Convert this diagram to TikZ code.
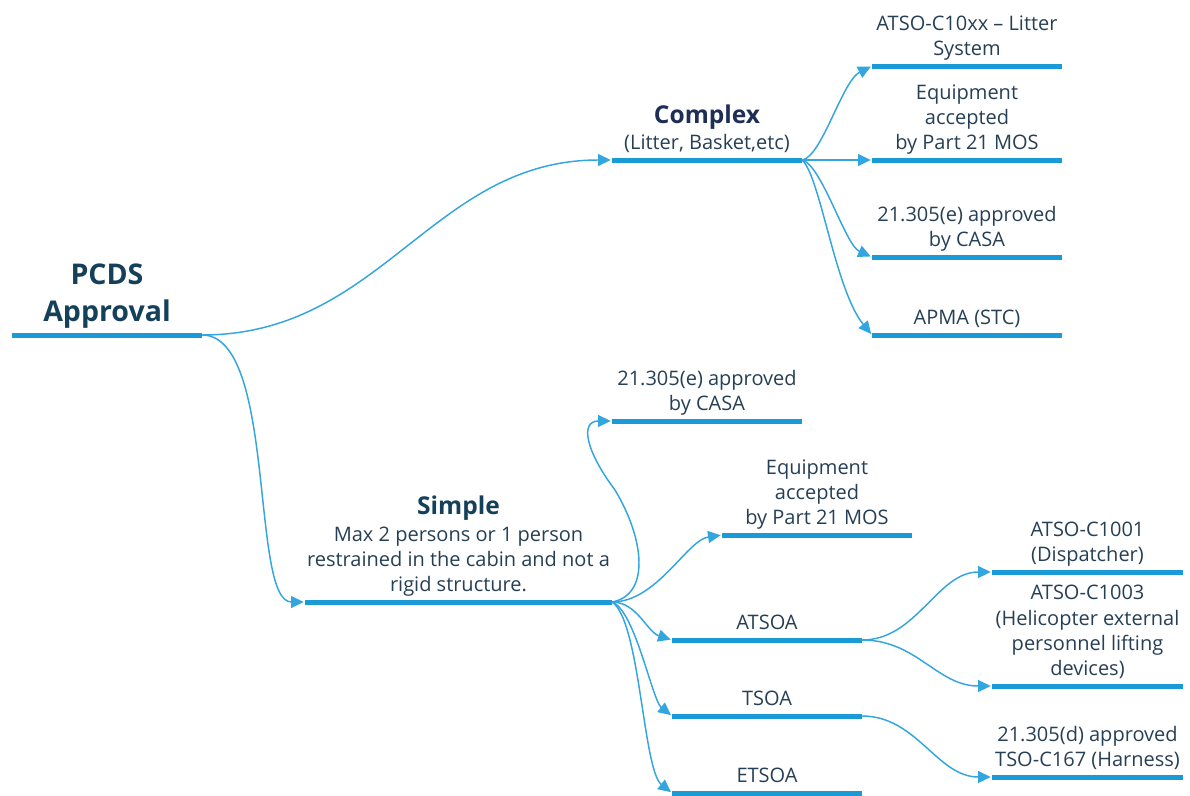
\documentclass[tikz,border=0pt]{standalone}
\usepackage{fontspec}
\setmainfont{Open Sans}
\usetikzlibrary{calc,arrows.meta}
\definecolor{barblue}{HTML}{1A9AD7}
\definecolor{linkblue}{HTML}{33A5DF}
\definecolor{inkgrey}{HTML}{263F55}
\definecolor{rootink}{HTML}{15405A}
\definecolor{navyink}{HTML}{1F2E55}
\tikzset{
	topicbar/.style={barblue, line width=3.75pt},
	topictext/.style={anchor=south, align=center, inner sep=0pt, yshift=1.8pt, text=inkgrey, font=\fontsize{15}{19}\selectfont},
	roottext/.style={text=rootink, font=\fontsize{21.4}{27.75}\selectfont\bfseries},
	link/.style={linkblue, line width=1.1pt, -{Triangle[length=9.5pt,width=9pt]}, shorten >=1pt},
}
% bar with its text: [style](name)(x left:x right:y){text}
\def\branch[#1](#2)(#3:#4:#5)#6{%
	\coordinate (#2-l) at (#3,#5);
	\coordinate (#2-r) at (#4,#5);
	\draw[topicbar] (#2-l) -- (#2-r);
	\node[topictext,#1] (#2) at ($(#2-l)!0.5!(#2-r)$) {#6\strut};
}
\def\headline#1#2{\textcolor{#1}{\fontsize{18.4}{22}\selectfont\bfseries #2}}

\begin{document}
\begin{tikzpicture}[x=0.75pt, y=-0.75pt]
		\useasboundingbox (0,0) rectangle (1190,796);
		%%%%% START %%%%%
		
		\branch[roottext](root)(12:202:335){PCDS\\Approval}
		
		\branch[](complex)(612:802:160){\headline{navyink}{Complex}\\[1pt](Litter, Basket,etc)}
		\branch[](litter)(872:1062:66){ATSO-C10xx – Litter\\System}
		\branch[](cequip)(872:1062:160){Equipment\\accepted\\by Part 21 MOS}
		\branch[](ccasa)(872:1062:257){21.305(e) approved\\by CASA}
		\branch[](apma)(872:1062:335){APMA (STC)}
		
		\branch[](simple)(305:612:602){\headline{rootink}{Simple}\\[1pt]Max 2 persons or 1 person\\restrained in the cabin and not a\\rigid structure.}
		\branch[](scasa)(612:802:421){21.305(e) approved\\by CASA}
		\branch[](sequip)(722:912:535){Equipment\\accepted\\by Part 21 MOS}
		\branch[](atsoa)(672:862:640){ATSOA}
		\branch[](tsoa)(672:862:716){TSOA}
		\branch[](etsoa)(672:862:793){ETSOA}
		
		\branch[](disp)(992:1183:572){ATSO-C1001\\(Dispatcher)}
		\branch[](hoist)(992:1183:686){ATSO-C1003\\(Helicopter external\\personnel lifting\\devices)}
		\branch[](harness)(992:1183:777){21.305(d) approved\\TSO-C167 (Harness)}
		
		% root
		\draw[link] (root-r) .. controls +(180,0) and +(-180,0) .. (complex-l);
		\draw[link] (root-r) .. controls +(75,0) and +(-55,0) .. (simple-l);
		
		% complex
		\draw[link] (complex-r) .. controls +(20,-3) and +(-30,15) .. (litter-l);
		\draw[link] (complex-r) -- (cequip-l);
		\draw[link] (complex-r) .. controls +(20,5) and +(-27,-12) .. (ccasa-l);
		\draw[link] (complex-r) .. controls +(18,15) and +(-37,-45) .. (apma-l);
		
		% simple
		\draw[link] (simple-r) .. controls +(38,-7) and +(30,50) .. ($(simple-r)+(3,-112)$) .. controls +(-30,-40) and +(-32,0) .. (scasa-l);
		\draw[link] (simple-r) .. controls +(45,0) and +(-35,5) .. (sequip-l);
		\draw[link] (simple-r) .. controls +(25,0) and +(-25,-8) .. (atsoa-l);
		\draw[link] (simple-r) .. controls +(23,8) and +(-20,-16) .. (tsoa-l);
		\draw[link] (simple-r) .. controls +(28,18) and +(-29,-23) .. (etsoa-l);
		
		% atsoa, tsoa
		\draw[link] (atsoa-r) .. controls +(55,0) and +(-55,0) .. (disp-l);
		\draw[link] (atsoa-r) .. controls +(55,0) and +(-55,0) .. (hoist-l);
		\draw[link] (tsoa-r) .. controls +(55,0) and +(-55,0) .. (harness-l);
		
		%%%%% END %%%%%
	\end{tikzpicture}
\end{document}
